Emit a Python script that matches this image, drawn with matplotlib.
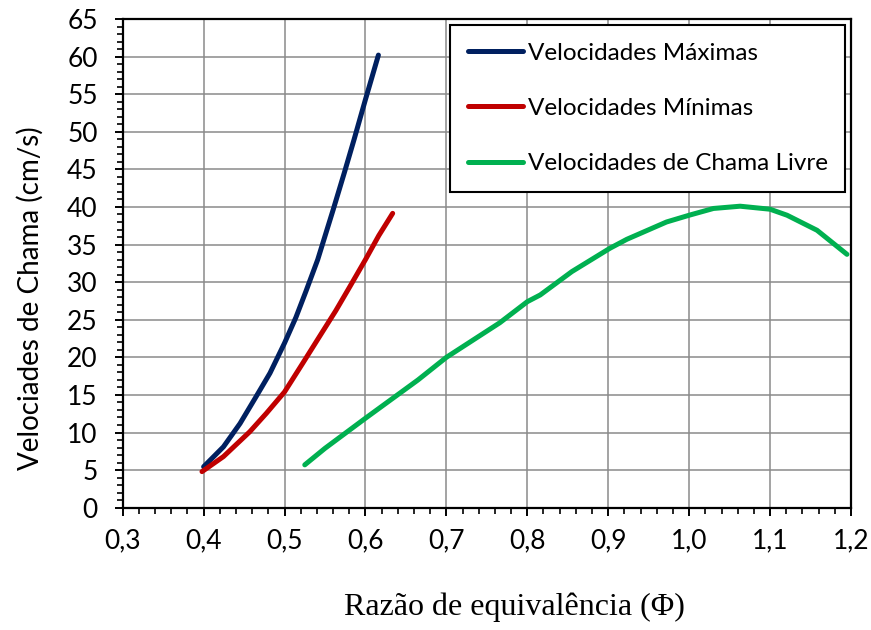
import matplotlib
matplotlib.use("Agg")
import matplotlib.pyplot as plt
from matplotlib.ticker import MultipleLocator, FuncFormatter

# Equivalence ratio (phi) and flame speeds (cm/s)
phi_max = [0.40, 0.4245, 0.445, 0.465, 0.482, 0.50, 0.514, 0.5265, 0.541, 0.56,
           0.574, 0.586, 0.60, 0.616]
v_max = [5.45, 8.1, 11.2, 14.8, 17.9, 21.9, 25.3, 28.8, 33.0, 39.6,
         44.6, 49.0, 54.3, 60.2]

phi_min = [0.398, 0.4245, 0.457, 0.4775, 0.50, 0.5224, 0.5469, 0.5633, 0.5796,
           0.60, 0.6165, 0.6336]
v_min = [4.8, 6.8, 10.1, 12.55, 15.4, 19.2, 23.4, 26.2, 29.2,
         33.0, 36.2, 39.15]

phi_free = [0.525, 0.55, 0.60, 0.665, 0.70, 0.766, 0.80, 0.816, 0.855, 0.902, 0.923,
            0.972, 1.00, 1.03, 1.063, 1.10, 1.121, 1.158, 1.195]
v_free = [5.7, 7.9, 11.9, 17.0, 20.0, 24.6, 27.4, 28.3, 31.4, 34.5, 35.7,
          38.0, 38.9, 39.8, 40.1, 39.7, 38.9, 36.9, 33.7]

series_labels = ["Velocidades Máximas", "Velocidades Mínimas", "Velocidades de Chama Livre"]
series_colors = ["#002060", "#C00000", "#00B050"]

sans = ["Lato", "DejaVu Sans"]
serif = ["Liberation Serif", "DejaVu Serif"]

W, H = 871, 630
fig = plt.figure(figsize=(W / 100, H / 100), dpi=100)
ax = fig.add_axes([122.7 / W, 1 - 507.7 / H, (851 - 122.7) / W, (507.7 - 19) / H])

for xs, ys, lab, col in zip([phi_max, phi_min, phi_free], [v_max, v_min, v_free],
                            series_labels, series_colors):
    ax.plot(xs, ys, color=col, lw=3.6, solid_capstyle="round", solid_joinstyle="round",
            label=lab, zorder=3)

ax.set_xlim(0.3, 1.2)
ax.set_ylim(0, 65)
ax.xaxis.set_major_locator(MultipleLocator(0.1))
ax.xaxis.set_minor_locator(MultipleLocator(0.02))
ax.yaxis.set_major_locator(MultipleLocator(5))
ax.yaxis.set_minor_locator(MultipleLocator(1))
ax.xaxis.set_major_formatter(FuncFormatter(lambda v, p: f"{v:.1f}".replace(".", ",")))
ax.yaxis.set_major_formatter(FuncFormatter(lambda v, p: f"{v:.0f}"))

ax.grid(True, which="major", color="#8a8a8a", lw=1.1, zorder=0)
ax.set_axisbelow(True)
for s in ax.spines.values():
    s.set_linewidth(1.6)
    s.set_color("black")

ax.tick_params(axis="both", which="major", direction="out", length=6, width=1.4,
               labelsize=19)
ax.tick_params(axis="y", which="major", pad=12)
ax.tick_params(axis="x", which="major", pad=9)
ax.tick_params(axis="both", which="minor", direction="out", length=4, width=1.2)
for t in ax.get_xticklabels() + ax.get_yticklabels():
    t.set_family(sans)

fig.text(30 / W, 1 - 298.5 / H, "Velociades de Chama (cm/s)", family=sans, fontsize=20,
         rotation=90, ha="center", va="center")
fig.text(514.5 / W, 1 - 607 / H, "Razão de equivalência (Φ)", family=serif, fontsize=23,
         ha="center", va="center")

leg = ax.legend(loc="upper right", bbox_to_anchor=(845 / W, 1 - 25 / H),
                bbox_transform=fig.transFigure, borderaxespad=0, fancybox=False,
                frameon=True, edgecolor="black", framealpha=1,
                prop={"family": sans, "size": 17.5},
                handlelength=2.26, handletextpad=0.2, labelspacing=1.41,
                borderpad=0.72)
leg.get_frame().set_linewidth(1.5)
leg.set_zorder(5)

fig.savefig("out.png", dpi=100)
